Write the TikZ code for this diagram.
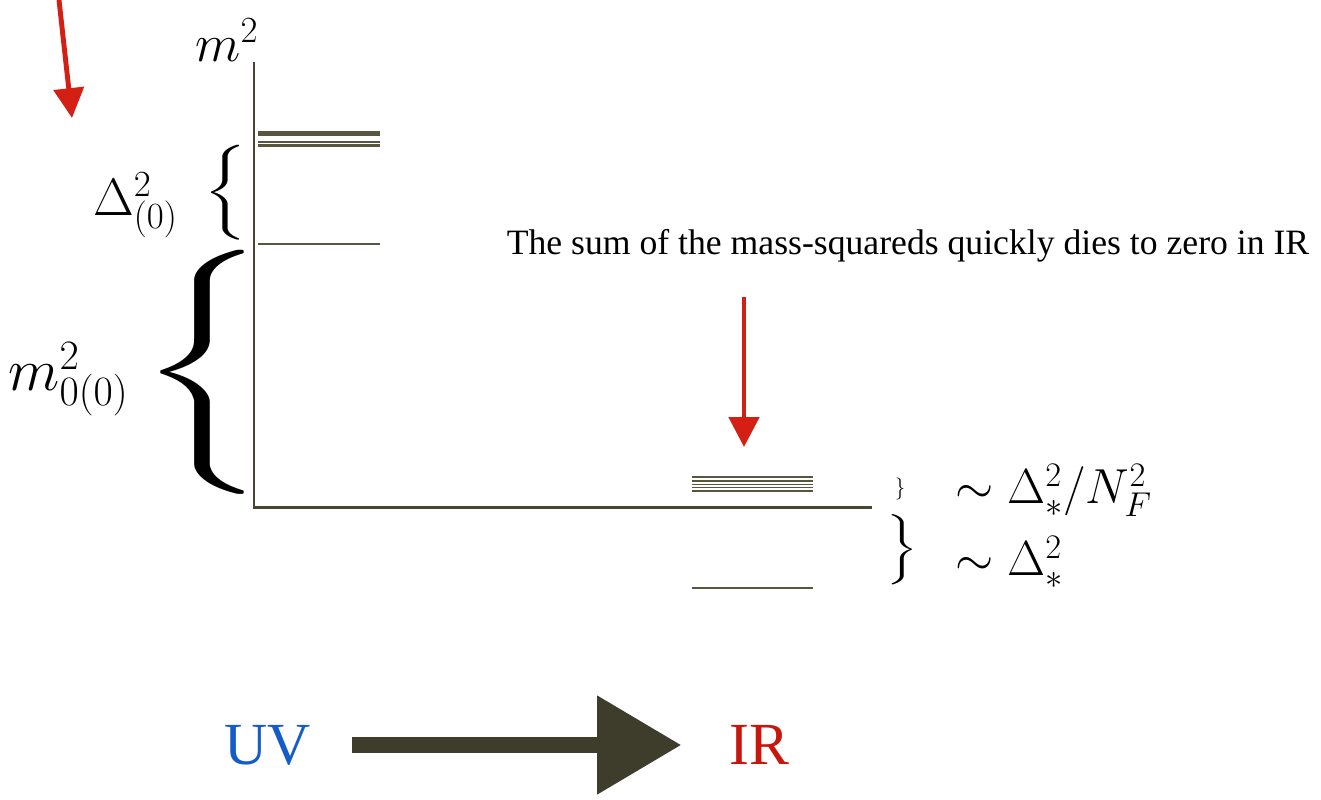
\RequirePackage{fix-cm}
\documentclass[tikz,border=0pt]{standalone}
\usepackage{fontspec}
\usepackage{graphicx}
\usetikzlibrary{positioning,arrows.meta}
\newfontfamily\timesfont{Liberation Serif}
\definecolor{axiscol}{RGB}{72,70,48}
\definecolor{levelcol}{RGB}{88,86,62}
\definecolor{handred}{RGB}{212,32,20}
\definecolor{uvblue}{RGB}{20,92,200}
\definecolor{irred}{RGB}{200,22,12}
\definecolor{flowcol}{RGB}{62,60,42}

\begin{document}
\begin{tikzpicture}[x=0.02cm,y=-0.02cm,
		axisline/.style={draw=axiscol,line width=1.7pt},
		level/.style={draw=levelcol,line width=1.4pt},
		handarrow/.style={draw=handred,line width=2.8pt,-{Triangle[length=17pt,width=17pt]}},
		mathlabel/.style={inner sep=0pt,font=\fontsize{30}{36}\selectfont},
		sidelabel/.style={inner sep=0pt,anchor=west,font=\fontsize{28}{34}\selectfont},
		bracenode/.style={inner sep=0pt},
		romanlabel/.style={inner sep=0pt,font=\timesfont\fontsize{34}{40}\selectfont}]
	\useasboundingbox (0,0) rectangle (1321,799);
	% axes
	\coordinate (origin) at (254,507);
	\draw[axisline] (254,62) -- (origin) -- (872,507);
	\node[mathlabel] (msq) at (227,40) {$m^2$};
	% UV levels
	\draw[level,line width=2.8pt] (258,133.5) -- (380,133.5);
	\foreach \y in {142,145.5,244}
	{\draw[level] (258,\y) -- (380,\y);}
	% IR levels
	\foreach \y in {477,481,484.5,487.5,491}
	{\draw[level,line width=1.1pt] (692,\y) -- (813,\y);}
	\draw[level] (692,588) -- (813,588);
	% braces and labels
	\node[bracenode] (dbrace) at (225,193) {\resizebox*{25pt}{54pt}{$\Bigg\{$}};
	\node[mathlabel,left=14pt of dbrace,yshift=-7pt] (dlabel) {$\Delta^2_{(0)}$};
	\node[bracenode] (mbrace) at (203,372) {\resizebox*{74pt}{139pt}{$\Bigg\{$}};
	\node[mathlabel,left=5pt of mbrace,yshift=-4pt,font=\fontsize{34}{40}\selectfont] (mlabel) {$m^2_{0(0)}$};
	\node[bracenode] (nbrace) at (900,489) {\resizebox*{5.7pt}{12.5pt}{$\}$}};
	\node[sidelabel] (nlabel) at (955,490) {$\sim\Delta_*^2/N_F^2$};
	\node[bracenode] (sbrace) at (902,550) {\resizebox*{18pt}{40pt}{$\Bigg\}$}};
	\node[sidelabel] (slabel) at (955,562) {$\sim\Delta_*^2$};
	% note and red arrows
	\node[inner sep=0pt,font=\timesfont\fontsize{20.3}{24}\selectfont] (note) at (908,246)
	{The sum of the mass-squareds quickly dies to zero in IR};
	\coordinate (irarrowtop) at (744,297);
	\coordinate (irbandtop) at (744,447);
	\draw[handarrow] (irarrowtop) -- (irbandtop);
	\coordinate (cornerstart) at (59,0);
	\coordinate (cornertip) at (72,118);
	\draw[handarrow] (cornerstart) -- (cornertip);
	% flow
	\node[romanlabel,text=uvblue] (uv) at (268,745) {UV};
	\node[romanlabel,text=irred] (ir) at (759,745) {IR};
	\draw[draw=flowcol,line width=9pt,-{Triangle[length=48pt,width=54pt]},
	shorten <=23pt,shorten >=27pt] (uv) -- (ir);
\end{tikzpicture}
\end{document}
